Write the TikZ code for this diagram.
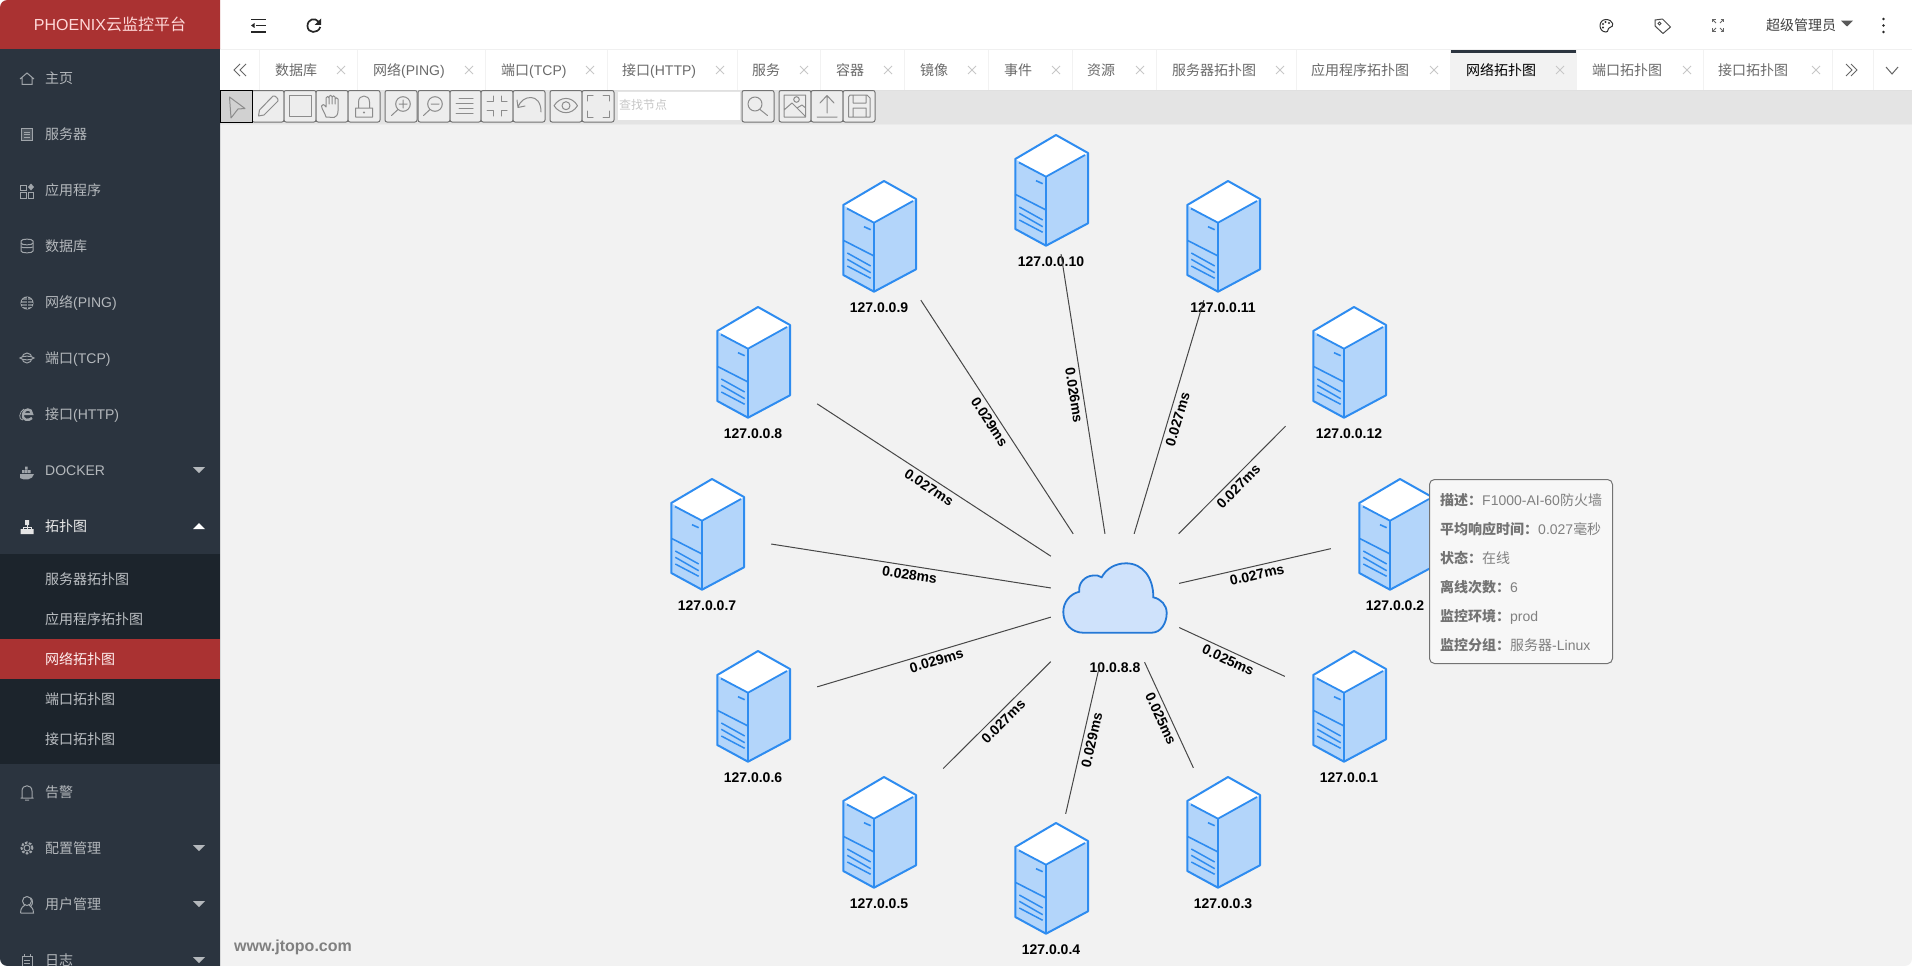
\documentclass[tikz,border=0pt]{standalone}
\usepackage{fontspec}
\setmainfont{Liberation Sans}
\newfontfamily\cjk{Noto Sans CJK SC}
\newcommand\zh[1]{{\cjk #1}}
\usetikzlibrary{arrows.meta}
\definecolor{sidebg}{HTML}{2B343F}
\definecolor{subbg}{HTML}{1C242C}
\definecolor{redbar}{HTML}{AA3232}
\definecolor{menugray}{HTML}{B4B8BC}
\definecolor{iconside}{HTML}{A0A5AA}
\definecolor{tabtxt}{HTML}{6A6A6A}
\definecolor{tabsep}{HTML}{F2F2F2}
\definecolor{toolbg}{HTML}{E4E4E4}
\definecolor{canvasbg}{HTML}{F2F2F2}
\definecolor{tbicon}{HTML}{8C8C8C}
\definecolor{srvline}{HTML}{2E8CF0}
\definecolor{srvfill}{HTML}{B3D5FA}
\definecolor{cloudline}{HTML}{2478D6}
\definecolor{cloudfill}{HTML}{CFE2FB}
\tikzset{
  x=1pt,y=-1pt,
  menu/.style={anchor=base west,inner sep=0pt,font=\fontsize{14}{16}\selectfont,text=menugray},
  submenu/.style={menu,text=menugray!90!white},
  tab/.style={anchor=base west,inner sep=0pt,font=\fontsize{14}{16}\selectfont,text=tabtxt},
  sicon/.style={draw=iconside,line width=1pt,fill=none},
  tricon/.style={fill=menugray,draw=none},
  tbtn/.style={draw=black!55,fill=black!7,line width=1pt,rounded corners=2pt},
  ticon/.style={draw=tbicon,line width=1pt,fill=none,line cap=round,line join=round},
  closex/.style={draw=black!22,line width=1pt},
  hostbox/.style={rectangle,inner sep=0pt,minimum width=128pt,minimum height=128pt},
  hostlabel/.style={inner sep=0pt,font=\fontsize{14}{16}\selectfont\bfseries,text=black},
  link/.style={draw=black!72,line width=1pt},
  linklabel/.style={sloped,midway,below=3.5pt,inner sep=0pt,font=\fontsize{14}{16}\selectfont\bfseries,text=black},
  tip/.style={anchor=base west,inner sep=0pt,font=\fontsize{14}{16}\selectfont,text=black!50},
  server/.pic={
    \fill[srvfill] (-35.7,-31) -- (-5,-13.3) -- (37,-37) -- (37,33.3) -- (-5,55.7) -- (-35.7,39) -- cycle;
    \fill[white] (5,-55) -- (-35.7,-31) -- (-5,-13.3) -- (37,-37) -- cycle;
    \draw[srvline,line width=2pt,line join=round] (5,-55) -- (-35.7,-31) -- (-35.7,39) -- (-5,55.7) -- (37,33.3) -- (37,-37) -- cycle;
    \draw[srvline,line width=1.8pt] (-32,-27.5) -- (-5,-13.3) -- (34,-35);
    \draw[srvline,line width=1.8pt] (-5,-13.3) -- (-5,55.7);
    \draw[srvline,line width=1.6pt] (-35.7,4.3) -- (-5,20);
    \draw[srvline,line width=1.6pt] (-15,-9.3) -- (-8.3,-6.3);
    \draw[srvline,line width=1.5pt] (-31.7,17) -- (-8.3,30);
    \draw[srvline,line width=1.5pt] (-31.7,23.3) -- (-8.3,36.7);
    \draw[srvline,line width=1.5pt] (-31.7,30) -- (-8.3,42.3);
  }
}
\begin{document}
\begin{tikzpicture}
\useasboundingbox (0,0) rectangle (1912,966);
\fill[white] (0,0) rectangle (1912,966);
% canvas
\fill[canvasbg] (220,90) -- (1912,90) -- (1912,958) .. controls (1912,963) and (1909,966) .. (1904,966) -- (220,966) -- cycle;
\fill[toolbg] (220,90) rectangle (1912,124);
\fill[black!8] (220,124) rectangle (1912,125);
% sidebar
\fill[sidebg] (0,49) -- (220,49) -- (220,966) -- (8,966) .. controls (3,966) and (0,963) .. (0,958) -- cycle;
\fill[redbar] (0,49) -- (0,8) .. controls (0,3) and (3,0) .. (8,0) -- (220,0) -- (220,49) -- cycle;
\fill[subbg] (0,554) rectangle (220,764);
\fill[redbar] (0,639) rectangle (220,679);
\node[inner sep=0pt,anchor=base,font=\fontsize{16}{18}\selectfont,text=red!15!white] (brand) at (110,31) {PHOENIX\zh{云监控平台}};
\foreach \y/\t/\n in {78/\zh{主页}/a,134/\zh{服务器}/b,190/\zh{应用程序}/c,246/\zh{数据库}/d,302/\zh{网络}(PING)/e,358/\zh{端口}(TCP)/f,414/\zh{接口}(HTTP)/g,470/DOCKER/h,792/\zh{告警}/i,848/\zh{配置管理}/j,904/\zh{用户管理}/k,960/\zh{日志}/l}
  \node[menu] (m\n) at (45,\y+5.5) {\t};
\node[menu,text=white!92!black] (mtopo) at (45,531.5) {\zh{拓扑图}};
\foreach \y/\t/\n in {579/服务器拓扑图/a,619/应用程序拓扑图/b,699/端口拓扑图/c,739/接口拓扑图/d}
  \node[submenu] (s\n) at (45,\y+5.5) {\zh{\t}};
\node[menu,text=red!6!white] (sactive) at (45,664.5) {\zh{网络拓扑图}};
% triangles
\foreach \y in {470,848,904,960}
  \fill[tricon] (193,\y-3) -- (205,\y-3) -- (199,\y+3) -- cycle;
\fill[white] (193,529) -- (205,529) -- (199,523) -- cycle;
% sidebar icons
\draw[sicon] (20,79) -- (27,73) -- (34,79) (22,78) -- (22,84.5) -- (32,84.5) -- (32,78);
\draw[sicon,fill=iconside!30!sidebg] (21.5,128.5) rectangle (32.5,140);
\draw[sicon] (24,132) -- (30,132) (24,134.5) -- (30,134.5) (24,137) -- (30,137);
\draw[sicon] (20.5,185) rectangle (26,190) (20.5,192.5) rectangle (26,198) (28.5,192.5) rectangle (33.5,198);
\fill[iconside] (31,183.5) -- (34,187) -- (31,190.5) -- (28,187) -- cycle;
\draw[sicon] (21,241) .. controls (21,238.5) and (33,238.5) .. (33,241) -- (33,251) .. controls (33,253.5) and (21,253.5) .. (21,251) -- cycle;
\draw[sicon] (21,243) .. controls (21,245.5) and (33,245.5) .. (33,243) (21,247) .. controls (23,248) and (31,248) .. (33,247);
\draw[sicon,fill=iconside!60!sidebg] (27,303) circle[radius=6pt];
\draw[sidebg,line width=.7pt] (21,303) -- (33,303) (27,297) -- (27,309) (22,300) -- (32,300) (22,306) -- (32,306);
\draw[sicon] (27,358) circle[radius=5pt];
\draw[sicon,fill=sidebg] (20,358) .. controls (22,355.5) and (32,355.5) .. (34,358) .. controls (32,360.5) and (22,360.5) .. (20,358) -- cycle;
\draw[iconside,line width=2.4pt] (23,414) -- (32,414) .. controls (32,408) and (24,408) .. (23,414) .. controls (22,421) and (29,421) .. (32,418);
\draw[iconside,line width=.8pt] (24,409) .. controls (19,412) and (18,420) .. (23,420);
\fill[iconside] (20,474) -- (34,474) .. controls (33,480) and (24,481) .. (20,478) -- cycle;
\fill[iconside] (22,470) rectangle (24.5,473) (25,470) rectangle (27.5,473) (28,470) rectangle (30.5,473) (25,466.5) rectangle (27.5,469.5);
\fill[white!90!black] (25,520) rectangle (29,525) (20.5,529) rectangle (25,534) (25,529) rectangle (29,534) (29,529) rectangle (33.5,534);
\draw[white!90!black,line width=.8pt] (27,525) -- (27,529) (23,529) -- (23,527) -- (31,527) -- (31,529);
\draw[sicon] (22,798) -- (22,791) .. controls (22,784) and (32,784) .. (32,791) -- (32,798) (20.5,798) -- (33.5,798) (25,800) -- (29,800);
\draw[sicon,dash pattern=on 2.6pt off 1.4pt,line width=2pt] (27,848) circle[radius=5.5pt];
\draw[sicon] (27,848) circle[radius=3pt];
\draw[sicon] (27,901) circle[radius=4.5pt];
\draw[sicon] (20.5,913) .. controls (20.5,907) and (24,906) .. (25,905) (29,905) .. controls (31,907) and (33.5,908) .. (33.5,913) -- (20.5,913) (31,898) .. controls (33,900) and (33,904) .. (31,906);
\draw[sicon] (22,956) rectangle (32,966) (24,954) -- (24,957) (30,954) -- (30,957) (24,960) -- (30,960) (24,963) -- (30,963);
% top bar icons
\draw[black!85,line width=1.5pt] (251,19.5) -- (266,19.5) (256,25.5) -- (266,25.5) (251,32) -- (266,32);
\fill[black!85] (254.5,23) -- (254.5,28) -- (251,25.5) -- cycle;
\draw[black!85,line width=1.7pt] (320.3,27) .. controls (318,34) and (307.5,33.5) .. (307.5,26) .. controls (307.5,19) and (315,17) .. (319,22);
\fill[black!85] (321,18.5) -- (321,25) -- (314.5,25) -- cycle;
\draw[black!80,line width=1pt] (1606,19.5) .. controls (1598,19.5) and (1598,32) .. (1606,32) .. controls (1609,32) and (1607,28) .. (1610,27.5) .. controls (1615,27) and (1613,19.5) .. (1606,19.5) -- cycle;
\fill[black!80] (1603,24) circle[radius=1.1pt] (1605.5,22) circle[radius=1.1pt] (1609,23) circle[radius=1.1pt] (1603,27.5) circle[radius=1.1pt];
\draw[black!70,line width=1pt,line join=round] (1655,20) -- (1662.5,19) -- (1670.5,27) -- (1663,33.5) -- (1655,26) -- cycle;
\draw[black!70,line width=.8pt] (1659.5,23.5) circle[radius=1.5pt];
\draw[black!60,line width=1pt] (1716,23) -- (1713,20) (1720,23) -- (1723,20) (1716,28) -- (1713,31) (1720,28) -- (1723,31);
\draw[black!60,line width=1pt] (1712.5,22.5) -- (1712.5,19.5) -- (1715.5,19.5) (1720.5,19.5) -- (1723.5,19.5) -- (1723.5,22.5) (1712.5,28.5) -- (1712.5,31.5) -- (1715.5,31.5) (1720.5,31.5) -- (1723.5,31.5) -- (1723.5,28.5);
\node[anchor=base west,inner sep=0pt,font=\fontsize{14}{16}\selectfont,text=black!75] (user) at (1766,30.5) {\zh{超级管理员}};
\fill[black!65] (1841,20.7) -- (1853,20.7) -- (1847,26.5) -- cycle;
\fill[black!85] (1883.5,19) circle[radius=1.3pt] (1883.5,25.5) circle[radius=1.3pt] (1883.5,32) circle[radius=1.3pt];
% tabs
\fill[white] (220,49) rectangle (1912,90);
\fill[black!6] (220,49) rectangle (1912,50);
\fill[black!12] (220,90) rectangle (1912,91);
\fill[canvasbg] (1451,50) rectangle (1576,90);
\fill[sidebg] (1451,50) rectangle (1576,53);
\foreach \s in {259,357,485,607,737,820,904,988,1072,1156,1296,1450,1576,1703,1832,1873}
  \draw[tabsep,line width=1pt] (\s,50) -- (\s,90);
\foreach \x/\c/\t/\n in {275/341/\zh{数据库}/a,373/469/\zh{网络}(PING)/b,501/590/\zh{端口}(TCP)/c,622/720/\zh{接口}(HTTP)/d,752/804/\zh{服务}/e,836/888/\zh{容器}/f,920/972/\zh{镜像}/g,1004/1056/\zh{事件}/h,1087/1140/\zh{资源}/i,1172/1280/\zh{服务器拓扑图}/j,1311/1434/\zh{应用程序拓扑图}/k,1466/1560/{\color{black}\zh{网络拓扑图}}/l,1592/1687/\zh{端口拓扑图}/m,1718/1816/\zh{接口拓扑图}/n}
{
  \node[tab] (t\n) at (\x,75.5) {\t};
  \draw[closex] (\c-4,66) -- (\c+4,74) (\c+4,66) -- (\c-4,74);
}
\draw[black!60,line width=1pt] (240,64) -- (234,70) -- (240,76) (246,64) -- (240,70) -- (246,76);
\draw[black!60,line width=1pt] (1851,64) -- (1857,70) -- (1851,76) (1846,64) -- (1852,70) -- (1846,76);
\draw[black!60,line width=1pt] (1886,67) -- (1892,74) -- (1898,67);
% toolbar
\foreach \xa/\xb in {252/284,284/316,316/348,348/380,385/417,418/450,450/481,481/513,513/545,550/582,582/614,742/774,779/811,811/843,843/875}
  \draw[tbtn] (\xa,90.5) rectangle (\xb,122);
\fill[black!18] (220.5,90.5) rectangle (252,122);
\draw[black,line width=1pt] (220.5,90.5) rectangle (252,122);
\draw[ticon] (229.5,97) -- (245,108.5) -- (238,109) -- (231,118) -- cycle;
\draw[ticon] (258.5,116) -- (259.5,110) -- (273,96) .. controls (275,95) and (279,99) .. (278,101) -- (264,115) -- cycle;
\draw[ticon] (289.3,95.5) rectangle (311,116.7);
\draw[ticon] (326,117) .. controls (325,113) and (322,110) .. (321.5,106) .. controls (322,104) and (324,104) .. (326,107) -- (326,98) .. controls (326,96) and (329,96) .. (329,98) -- (329,104) -- (329,96.5) .. controls (329,95) and (332,95) .. (332,96.5) -- (332,104) -- (332,97) .. controls (332,95.5) and (335,95.5) .. (335,97) -- (335,104) -- (335,99) .. controls (335,97.5) and (338,97.5) .. (338,99) -- (338,111) .. controls (338,115) and (336,117) .. (334,117.5) -- cycle;
\draw[ticon] (355.5,108) rectangle (372.5,117) (358.5,108) -- (358.5,102) .. controls (358.5,94) and (369.5,94) .. (369.5,102) -- (369.5,108);
\fill[tbicon] (364,112.5) circle[radius=1.2pt];
\draw[ticon] (403,104) circle[radius=7.3pt] (398,109.5) -- (391.5,115.5) (399,104) -- (407,104) (403,100) -- (403,108);
\draw[ticon] (435,104) circle[radius=7.3pt] (430,109.5) -- (423.5,115.5) (431,104) -- (439,104);
\draw[ticon] (459,98) -- (473,98) (456,103) -- (473,103) (459,108) -- (473,108) (456,113) -- (473,113);
\draw[ticon] (487,101.5) -- (493,101.5) -- (493,96) (507,101.5) -- (501,101.5) -- (501,96) (487,110) -- (493,110) -- (493,116) (507,110) -- (501,110) -- (501,116);
\draw[ticon] (541,112) .. controls (541,92) and (522,95) .. (518,107) (517,100) -- (518,107.5) -- (525,106);
\draw[ticon] (554,105.7) .. controls (560,96) and (572,96) .. (577.5,105.7) .. controls (572,115) and (560,115) .. (554,105.7) -- cycle (566,105.7) circle[radius=4pt];
\draw[ticon] (587,101) -- (587,95) -- (593,95) (603,95) -- (609,95) -- (609,101) (587,111) -- (587,117) -- (593,117) (603,117) -- (609,117) -- (609,111);
\fill[white] (618,92) rectangle (740,120);
\node[anchor=base west,inner sep=0pt,font=\fontsize{12}{14}\selectfont,text=black!22] (find) at (619,110) {\zh{查找节点}};
\draw[ticon] (755,104) circle[radius=7pt] (760,109.5) -- (767.5,115.5);
\draw[ticon] (784,95) rectangle (805.7,117) (784,110) -- (792,103) -- (805,116) (797,108) -- (802,105) -- (805.7,108) (796.5,99.5) circle[radius=2.8pt];
\draw[ticon] (827,96) -- (827,113) (820,103) -- (827,95.5) -- (834,103) (817,117) -- (837,117);
\draw[ticon] (848.5,97) -- (850,95) -- (867,95) -- (870,98) -- (870,117) -- (848.5,117) -- cycle (853,95) -- (853,103) -- (866,103) -- (866,95) (853,117) -- (853,108) -- (866,108) -- (866,117);
% topology nodes
\node[hostbox] (hub) at (1115,598) {};
\foreach \n/\a/\b in {10/1051/190,11/1223/236,12/1349/362,2/1395/534,1/1349/706,3/1223/832,4/1051/878,5/879/832,6/753/706,7/707/534,8/753/362,9/879/236}
{
  \node[hostbox] (h\n) at (\a,\b) {};
  \pic at (\a,\b) {server};
  \node[hostlabel] (l\n) at (\a,\b+71.5) {127.0.0.\n};
}
\draw[cloudline,fill=cloudfill,line width=1.8pt] (1083,632.7) -- (1151.7,632.7) .. controls (1161,632.7) and (1166.7,623) .. (1166.7,613) .. controls (1166.7,605) and (1161,599) .. (1153.3,597.3) .. controls (1153.5,578) and (1143,563.3) .. (1126,563.3) .. controls (1115,563.3) and (1106,569) .. (1101.7,577.3) .. controls (1099,575.5) and (1096,575) .. (1093,575.5) .. controls (1085,576) and (1078,583) .. (1079.3,591.7) .. controls (1070,594) and (1063.3,602) .. (1063.3,612) .. controls (1063.3,624) and (1072,632.7) .. (1083,632.7) -- cycle;
\node[hostlabel] (lhub) at (1115,667.5) {10.0.8.8};
% links
\foreach \n/\v in {10/0.026ms,11/0.027ms,12/0.027ms,2/0.027ms,1/0.025ms,3/0.025ms,4/0.029ms,5/0.027ms,6/0.029ms,7/0.028ms,8/0.027ms,9/0.029ms}
  \draw[link] (hub) -- node[linklabel] {\v} (h\n);
% tooltip
\draw[draw=black!55,fill=white!97!black,line width=1pt,rounded corners=5pt] (1429.5,479.5) rectangle (1612.5,663.5);
\node[tip] (tp1) at (1440,505) {{\cjk\bfseries\color{black!55} 描述：}F1000-AI-60\zh{防火墙}};
\node[tip] (tp2) at (1440,534) {{\cjk\bfseries\color{black!55} 平均响应时间：}0.027\zh{毫秒}};
\node[tip] (tp3) at (1440,563) {{\cjk\bfseries\color{black!55} 状态：}\zh{在线}};
\node[tip] (tp4) at (1440,592) {{\cjk\bfseries\color{black!55} 离线次数：}6};
\node[tip] (tp5) at (1440,621) {{\cjk\bfseries\color{black!55} 监控环境：}prod};
\node[tip] (tp6) at (1440,650) {{\cjk\bfseries\color{black!55} 监控分组：}\zh{服务器}-Linux};
% watermark
\node[anchor=base west,inner sep=0pt,font=\fontsize{16}{18}\selectfont\bfseries,text=black!50] (wm) at (234,951) {www.jtopo.com};
\end{tikzpicture}
\end{document}
